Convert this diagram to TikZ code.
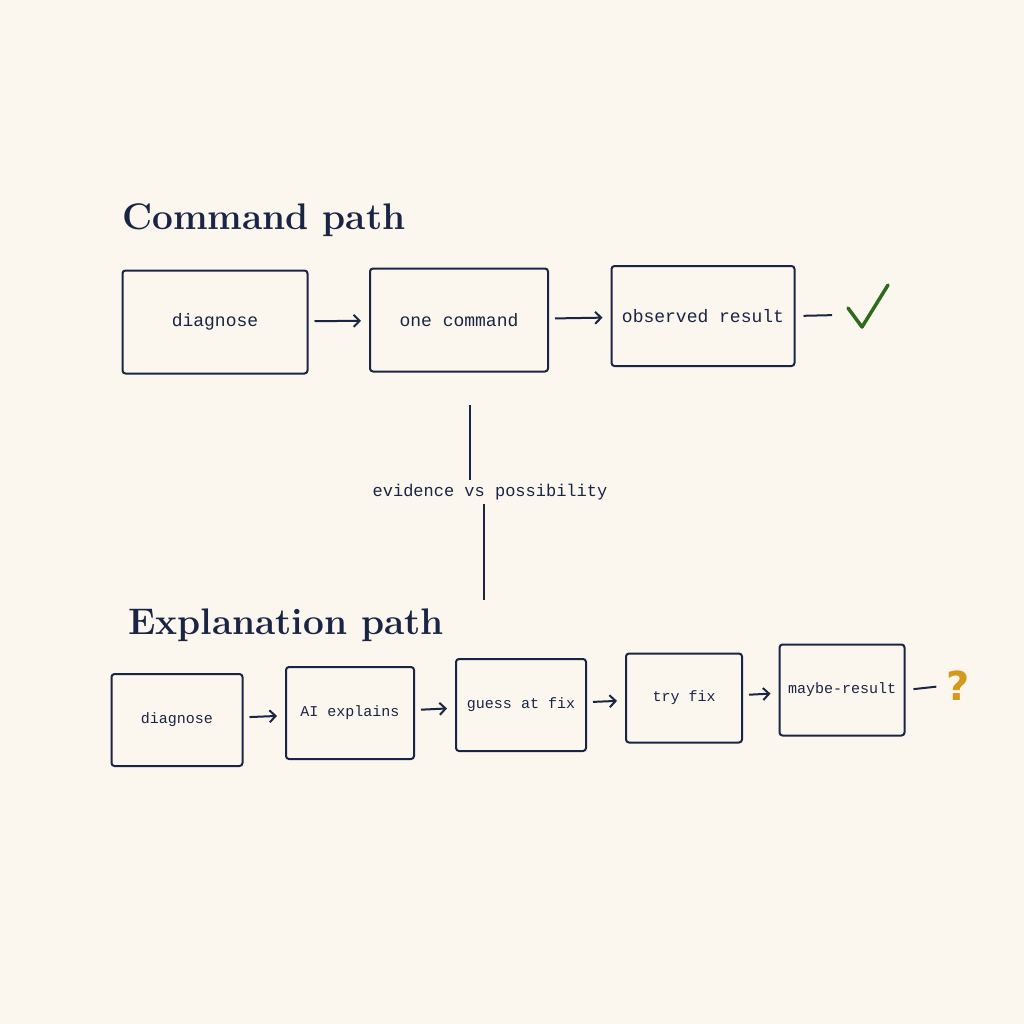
\documentclass[tikz,border=0pt]{standalone}
\usepackage{fontspec}
\setmonofont{Liberation Mono}
\newfontfamily\symfont{DejaVu Sans}
\usetikzlibrary{arrows.meta}
\definecolor{navy}{HTML}{1A2444}
\definecolor{paper}{HTML}{FBF7EE}
\definecolor{okgreen}{HTML}{2E6B1F}
\definecolor{maybe}{HTML}{D49A1E}

\begin{document}
\begin{tikzpicture}[x=1pt,y=-1pt,>={Straight Barb[length=6pt,width=12pt]},
                    line width=1.6pt,draw=navy,text=navy]
  \tikzstyle{bigstep}=[draw=navy,rounded corners=3pt,line width=2pt,fill=paper,
                       minimum width=185pt,minimum height=103pt,
                       font=\ttfamily\fontsize{18}{22}\selectfont]
  \tikzstyle{smallstep}=[draw=navy,rounded corners=3pt,line width=2pt,fill=paper,
                    minimum width=128pt,minimum height=92pt,
                    font=\ttfamily\fontsize{15}{18}\selectfont]
  \tikzstyle{title}=[anchor=west,font=\bfseries\fontsize{37}{44}\selectfont]
  \tikzstyle{flow}=[->,navy,line width=2pt,shorten <=6pt,shorten >=8pt]
  \tikzstyle{tail}=[navy,line width=2pt,shorten <=8pt,shorten >=6pt]

  \fill[paper] (0,0) rectangle (1024,1024);

  % command path
  \node[title] (ctitle) at (118,220) {Command path};
  \node[bigstep] (cdiag) at (215,322) {diagnose};
  \node[bigstep,minimum width=178pt] (ccmd) at (459,320) {one command};
  \node[bigstep,minimum width=183pt,minimum height=100pt] (cobs) at (703,316) {observed result};
  \coordinate (cend) at (838,315);
  \draw[flow] (cdiag) -- (ccmd);
  \draw[flow] (ccmd) -- (cobs);
  \draw[tail] (cobs.east) -- (cend);
  \draw[okgreen,line width=3.5pt,line cap=round,line join=round]
    (848,308) -- (862,327) -- (888,285);

  % divider
  \node[font=\ttfamily\fontsize{17}{21}\selectfont] (vs) at (490,492) {evidence vs possibility};
  \coordinate (vtop) at (470,405);
  \coordinate (vbot) at (484,600);
  \draw[line width=1.4pt] (vtop) -- (vs.north -| vtop);
  \draw[line width=1.4pt] (vs.south -| vbot) -- (vbot);

  % explanation path
  \node[title] (etitle) at (124,625) {Explanation path};
  \node[smallstep,minimum width=131pt] (ediag) at (177,720) {diagnose};
  \node[smallstep] (eai) at (350,713) {AI explains};
  \node[smallstep,minimum width=130pt] (eguess) at (521,705) {guess at fix};
  \node[smallstep,minimum width=116pt,minimum height=89pt] (etry) at (684,698) {try fix};
  \node[smallstep,minimum width=125pt,minimum height=91pt] (emaybe) at (842,690) {maybe-result};
  \node[maybe,font=\symfont\bfseries\fontsize{40}{44}\selectfont] (q) at (958,686) {?};
  \draw[flow] (ediag) -- (eai);
  \draw[flow] (eai) -- (eguess);
  \draw[flow] (eguess) -- (etry);
  \draw[flow] (etry) -- (emaybe);
  \draw[tail] (emaybe.east) -- (q.west);
\end{tikzpicture}
\end{document}
